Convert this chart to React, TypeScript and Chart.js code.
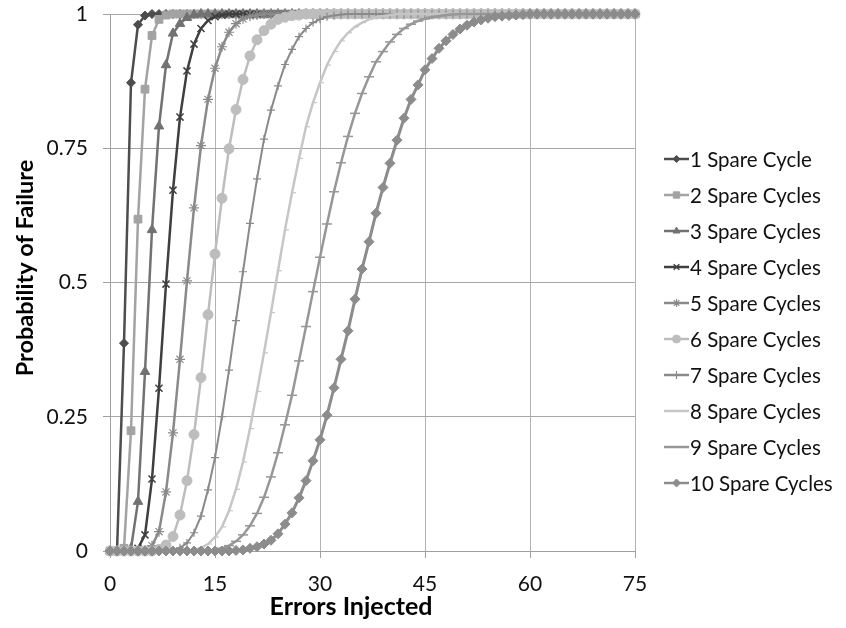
import React, { useEffect, useRef } from 'react';
import { Chart, registerables } from 'chart.js';
import { drawPoint } from 'chart.js/helpers';

Chart.register(...registerables);

const errorsInjected = [
  0, 1, 2, 3, 4, 5, 6, 7, 8, 9,
  10, 11, 12, 13, 14, 15, 16, 17, 18, 19,
  20, 21, 22, 23, 24, 25, 26, 27, 28, 29,
  30, 31, 32, 33, 34, 35, 36, 37, 38, 39,
  40, 41, 42, 43, 44, 45, 46, 47, 48, 49,
  50, 51, 52, 53, 54, 55, 56, 57, 58, 59,
  60, 61, 62, 63, 64, 65, 66, 67, 68, 69,
  70, 71, 72, 73, 74, 75,
];

const spare1 = [
  0, 0, 0.387, 0.872, 0.98, 0.997, 1, 1, 1, 1,
  1, 1, 1, 1, 1, 1, 1, 1, 1, 1,
  1, 1, 1, 1, 1, 1, 1, 1, 1, 1,
  1, 1, 1, 1, 1, 1, 1, 1, 1, 1,
  1, 1, 1, 1, 1, 1, 1, 1, 1, 1,
  1, 1, 1, 1, 1, 1, 1, 1, 1, 1,
  1, 1, 1, 1, 1, 1, 1, 1, 1, 1,
  1, 1, 1, 1, 1, 1,
];

const spare2 = [
  0, 0, 0.005, 0.224, 0.618, 0.86, 0.96, 0.99, 0.998, 1,
  1, 1, 1, 1, 1, 1, 1, 1, 1, 1,
  1, 1, 1, 1, 1, 1, 1, 1, 1, 1,
  1, 1, 1, 1, 1, 1, 1, 1, 1, 1,
  1, 1, 1, 1, 1, 1, 1, 1, 1, 1,
  1, 1, 1, 1, 1, 1, 1, 1, 1, 1,
  1, 1, 1, 1, 1, 1, 1, 1, 1, 1,
  1, 1, 1, 1, 1, 1,
];

const spare3 = [
  0, 0, 0, 0.005, 0.092, 0.334, 0.598, 0.791, 0.905, 0.964,
  0.982, 0.993, 0.998, 1, 1, 1, 1, 1, 1, 1,
  1, 1, 1, 1, 1, 1, 1, 1, 1, 1,
  1, 1, 1, 1, 1, 1, 1, 1, 1, 1,
  1, 1, 1, 1, 1, 1, 1, 1, 1, 1,
  1, 1, 1, 1, 1, 1, 1, 1, 1, 1,
  1, 1, 1, 1, 1, 1, 1, 1, 1, 1,
  1, 1, 1, 1, 1, 1,
];

const spare4 = [
  0, 0, 0, 0, 0.005, 0.03, 0.134, 0.303, 0.497, 0.672,
  0.808, 0.894, 0.944, 0.973, 0.988, 0.995, 0.998, 1, 1, 1,
  1, 1, 1, 1, 1, 1, 1, 1, 1, 1,
  1, 1, 1, 1, 1, 1, 1, 1, 1, 1,
  1, 1, 1, 1, 1, 1, 1, 1, 1, 1,
  1, 1, 1, 1, 1, 1, 1, 1, 1, 1,
  1, 1, 1, 1, 1, 1, 1, 1, 1, 1,
  1, 1, 1, 1, 1, 1,
];

const spare5 = [
  0, 0, 0, 0, 0, 0.002, 0.01, 0.036, 0.11, 0.22,
  0.357, 0.503, 0.639, 0.755, 0.841, 0.899, 0.939, 0.966, 0.982, 0.991,
  0.996, 0.998, 1, 1, 1, 1, 1, 1, 1, 1,
  1, 1, 1, 1, 1, 1, 1, 1, 1, 1,
  1, 1, 1, 1, 1, 1, 1, 1, 1, 1,
  1, 1, 1, 1, 1, 1, 1, 1, 1, 1,
  1, 1, 1, 1, 1, 1, 1, 1, 1, 1,
  1, 1, 1, 1, 1, 1,
];

const spare6 = [
  0, 0, 0, 0, 0, 0, 0, 0.003, 0.011, 0.027,
  0.067, 0.131, 0.217, 0.323, 0.44, 0.553, 0.657, 0.749, 0.822, 0.878,
  0.922, 0.952, 0.969, 0.981, 0.99, 0.994, 0.997, 0.998, 1, 1,
  1, 1, 1, 1, 1, 1, 1, 1, 1, 1,
  1, 1, 1, 1, 1, 1, 1, 1, 1, 1,
  1, 1, 1, 1, 1, 1, 1, 1, 1, 1,
  1, 1, 1, 1, 1, 1, 1, 1, 1, 1,
  1, 1, 1, 1, 1, 1,
];

const spare7 = [
  0, 0, 0, 0, 0, 0, 0, 0, 0, 0.002,
  0.006, 0.015, 0.034, 0.065, 0.114, 0.174, 0.25, 0.337, 0.429, 0.52,
  0.61, 0.693, 0.767, 0.821, 0.866, 0.906, 0.934, 0.958, 0.973, 0.984,
  0.99, 0.995, 0.997, 0.999, 1, 1, 1, 1, 1, 1,
  1, 1, 1, 1, 1, 1, 1, 1, 1, 1,
  1, 1, 1, 1, 1, 1, 1, 1, 1, 1,
  1, 1, 1, 1, 1, 1, 1, 1, 1, 1,
  1, 1, 1, 1, 1, 1,
];

const spare8 = [
  0, 0, 0, 0, 0, 0, 0, 0, 0, 0,
  0, 0.001, 0.002, 0.006, 0.013, 0.026, 0.045, 0.075, 0.115, 0.166,
  0.228, 0.297, 0.369, 0.444, 0.522, 0.598, 0.667, 0.731, 0.79, 0.835,
  0.872, 0.905, 0.93, 0.95, 0.965, 0.976, 0.984, 0.99, 0.994, 0.996,
  0.998, 1, 1, 1, 1, 1, 1, 1, 1, 1,
  1, 1, 1, 1, 1, 1, 1, 1, 1, 1,
  1, 1, 1, 1, 1, 1, 1, 1, 1, 1,
  1, 1, 1, 1, 1, 1,
];

const spare9 = [
  0, 0, 0, 0, 0, 0, 0, 0, 0, 0,
  0, 0, 0, 0, 0.001, 0.002, 0.005, 0.01, 0.018, 0.03,
  0.047, 0.07, 0.1, 0.138, 0.183, 0.235, 0.29, 0.354, 0.418, 0.483,
  0.547, 0.609, 0.669, 0.723, 0.772, 0.815, 0.852, 0.883, 0.911, 0.93,
  0.948, 0.962, 0.973, 0.981, 0.987, 0.991, 0.994, 0.996, 0.998, 0.999,
  1, 1, 1, 1, 1, 1, 1, 1, 1, 1,
  1, 1, 1, 1, 1, 1, 1, 1, 1, 1,
  1, 1, 1, 1, 1, 1,
];

const spare10 = [
  0, 0, 0, 0, 0, 0, 0, 0, 0, 0,
  0, 0, 0, 0, 0, 0, 0, 0, 0.001, 0.002,
  0.005, 0.008, 0.013, 0.02, 0.032, 0.05, 0.071, 0.099, 0.131, 0.168,
  0.207, 0.253, 0.304, 0.357, 0.41, 0.469, 0.525, 0.576, 0.629, 0.677,
  0.722, 0.765, 0.806, 0.841, 0.868, 0.896, 0.917, 0.936, 0.95, 0.962,
  0.972, 0.979, 0.985, 0.989, 0.992, 0.995, 0.996, 0.997, 0.998, 0.999,
  1, 1, 1, 1, 1, 1, 1, 1, 1, 1,
  1, 1, 1, 1, 1, 1,
];

const seriesNames = [
  '1 Spare Cycle',
  '2 Spare Cycles',
  '3 Spare Cycles',
  '4 Spare Cycles',
  '5 Spare Cycles',
  '6 Spare Cycles',
  '7 Spare Cycles',
  '8 Spare Cycles',
  '9 Spare Cycles',
  '10 Spare Cycles',
];

const seriesValues = [spare1, spare2, spare3, spare4, spare5, spare6, spare7, spare8, spare9, spare10];

const xTickValues = [0, 15, 30, 45, 60, 75];
const yTickValues = [0, 0.25, 0.5, 0.75, 1];
const yTickLabels = ['0', '0.25', '0.5', '0.75', '1'];

const xTitle = 'Errors Injected';
const yTitle = 'Probability of Failure';

const FONT = 'Lato, "Open Sans", sans-serif';

const seriesStyles = [
  { color: '#4d4d4d', point: 'rectRot', radius: 4.5, line: 2.5, pbw: 1, legendRadius: 3.5 },
  { color: '#a3a3a3', point: 'rect', radius: 5.5, line: 2.5, pbw: 1, legendRadius: 4.5 },
  { color: '#727272', point: 'triangle', radius: 5.5, line: 2.5, pbw: 1, legendRadius: 4 },
  { color: '#3f3f3f', point: 'crossRot', radius: 5, line: 2.5, pbw: 1.5, legendRadius: 4 },
  { color: '#8a8a8a', point: 'star', radius: 5, line: 2.5, pbw: 1.2, legendRadius: 4 },
  { color: '#bdbdbd', point: 'circle', radius: 5, line: 2.5, pbw: 1, legendRadius: 4 },
  { color: '#8a8a8a', point: 'cross', radius: 4, line: 2, pbw: 1.2, legendRadius: 4 },
  { color: '#c6c6c6', point: 'dash', radius: 4, line: 2.5, pbw: 1.2, legendRadius: 4 },
  { color: '#979797', point: 'line', radius: 5, line: 2.5, pbw: 1.5, legendRadius: 4 },
  { color: '#8c8c8c', point: 'rectRot', radius: 5, line: 3, pbw: 1, legendRadius: 4 },
];

const decorPlugin = {
  id: 'customLegendAndTitles',
  afterDraw(chart: any) {
    const ctx = chart.ctx as CanvasRenderingContext2D;
    ctx.save();
    // legend
    seriesNames.forEach((name, i) => {
      const s = seriesStyles[i];
      const y = 159 + i * 36;
      ctx.strokeStyle = s.color;
      ctx.lineWidth = 2.5;
      ctx.beginPath();
      ctx.moveTo(664, y);
      ctx.lineTo(689, y);
      ctx.stroke();
      ctx.fillStyle = s.color;
      ctx.strokeStyle = s.color;
      ctx.lineWidth = s.pbw;
      drawPoint(ctx, { pointStyle: s.point, radius: s.legendRadius, rotation: 0, borderWidth: s.pbw } as any, 676.5, y);
      ctx.fillStyle = '#111';
      ctx.font = `20.5px ${FONT}`;
      ctx.textAlign = 'left';
      ctx.textBaseline = 'middle';
      ctx.fillText(name, 690, y + 1);
    });
    // axis titles
    ctx.fillStyle = '#000';
    ctx.textAlign = 'center';
    ctx.textBaseline = 'middle';
    ctx.font = `bold 25px ${FONT}`;
    ctx.fillText(xTitle, 351, 607);
    ctx.save();
    ctx.translate(25, 268);
    ctx.rotate(-Math.PI / 2);
    ctx.font = `bold 23.5px ${FONT}`;
    ctx.fillText(yTitle, 0, 0);
    ctx.restore();
    ctx.restore();
  },
};

export default function App() {
  const canvasRef = useRef<HTMLCanvasElement>(null);

  useEffect(() => {
    if (!canvasRef.current) return;
    const datasets = seriesValues.map((vals, i) => {
      const s = seriesStyles[i];
      return {
        label: seriesNames[i],
        data: errorsInjected.map((x, j) => ({ x, y: vals[j] })),
        borderColor: s.color,
        backgroundColor: s.color,
        borderWidth: s.line,
        pointStyle: s.point,
        pointRadius: s.radius,
        pointHoverRadius: s.radius,
        pointBorderWidth: s.pbw,
        pointBackgroundColor: s.color,
        pointBorderColor: s.color,
        tension: 0,
        clip: false,
        order: 10 - i,
      };
    });

    const chart = new Chart(canvasRef.current, {
      type: 'line',
      data: { datasets },
      plugins: [decorPlugin],
      options: {
        responsive: false,
        animation: false,
        devicePixelRatio: 1,
        events: [],
        layout: { padding: { left: 0, right: 211, top: 14, bottom: 0 } },
        plugins: {
          legend: { display: false },
          tooltip: { enabled: false },
        },
        scales: {
          x: {
            type: 'linear',
            min: 0,
            max: 75,
            afterBuildTicks: (s: any) => {
              s.ticks = xTickValues.map((v) => ({ value: v }));
            },
            afterFit: (s: any) => {
              s.height = 77;
              s.paddingLeft = 0;
              s.paddingRight = 0;
            },
            ticks: {
              font: { family: FONT, size: 21 },
              color: '#111',
              padding: 14,
              maxRotation: 0,
              callback: (v: any) => String(v),
            },
            grid: { color: '#b3b3b3', lineWidth: 1, tickLength: 7, tickColor: '#a0a0a0' },
            border: { color: '#a0a0a0', width: 1 },
            title: { display: false },
          },
          y: {
            type: 'linear',
            min: 0,
            max: 1,
            afterBuildTicks: (s: any) => {
              s.ticks = yTickValues.map((v) => ({ value: v }));
            },
            afterFit: (s: any) => {
              s.width = 110;
              s.paddingTop = 0;
              s.paddingBottom = 0;
            },
            ticks: {
              font: { family: FONT, size: 21 },
              color: '#111',
              padding: 15,
              callback: (v: any) => {
                const k = yTickValues.indexOf(Number(v));
                return k >= 0 ? yTickLabels[k] : '';
              },
            },
            grid: { color: '#a6a6a6', lineWidth: 1, tickLength: 7, tickColor: '#a0a0a0' },
            border: { color: '#a0a0a0', width: 1 },
            title: { display: false },
          },
        },
      } as any,
    });
    return () => chart.destroy();
  }, []);

  return (
    <div style={{ position: 'fixed', left: 0, top: 0, width: 846, height: 628, background: '#fff' }}>
      <canvas ref={canvasRef} width={846} height={628} style={{ width: 846, height: 628, display: 'block' }} />
    </div>
  );
}
